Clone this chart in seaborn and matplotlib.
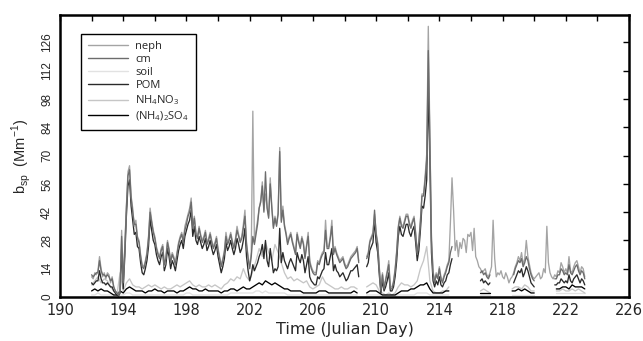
import numpy as np
import pandas as pd
import seaborn as sns
import matplotlib.pyplot as plt
from matplotlib.ticker import FixedLocator

nan = np.nan

# hourly-ish grid, 0.1 day steps from 192.0 to 223.2
day_fine = np.arange(1920, 2233) / 10
# coarser grid for the small components, 0.2 day steps
day_coarse = np.arange(960, 1117) / 5

neph = [
    10, 9, 12, 11, 13, 20, 14, 10, 12, 9,
    12, 11, 7, 10, 5, 3, 2, 1, 4, 33,
    8, 25, 45, 62, 65, 50, 44, 35, 38, 30,
    28, 21, 16, 15, 18, 22, 30, 44, 38, 33,
    30, 25, 22, 20, 24, 26, 15, 20, 28, 24,
    18, 22, 20, 17, 22, 27, 30, 32, 28, 35,
    38, 41, 44, 49, 35, 40, 32, 30, 35, 31,
    28, 30, 33, 27, 29, 32, 28, 25, 27, 30,
    24, 20, 16, 19, 23, 32, 27, 29, 32, 28,
    25, 29, 35, 31, 28, 30, 36, 43, 27, 20,
    15, 22, 92, 27, 33, 38, 44, 48, 57, 43,
    51, 45, 40, 59, 45, 35, 40, 36, 42, 74,
    38, 45, 36, 32, 27, 30, 32, 28, 25, 22,
    32, 28, 25, 30, 27, 20, 26, 32, 18, 15,
    13, 12, 12, 18, 17, 20, 22, 23, 38, 25,
    25, 30, 38, 22, 25, 22, 20, 18, 19, 20,
    17, 15, 16, 18, 20, 21, 22, 23, 25, 18,
    nan, nan, nan, nan, 20, 22, 28, 30, 32, 41,
    32, 27, 15, 4, 12, 5, 9, 13, 18, 5,
    5, 8, 14, 23, 35, 40, 36, 35, 38, 41,
    41, 37, 35, 38, 40, 32, 22, 28, 38, 51,
    51, 60, 71, 134, 80, 30, 13, 8, 12, 10,
    15, 10, 8, 11, 13, 16, 18, 37, 59, 43,
    23, 28, 20, 27, 24, 29, 28, 22, 31, 30,
    32, 23, 34, 20, 18, 15, 14, 12, 13, 14,
    11, 10, 12, 15, 38, 19, 10, 12, 11, 13,
    10, 9, 12, 10, 7, 9, 10, 12, 15, 17,
    20, 18, 22, 16, 19, 28, 20, 16, 12, 10,
    9, 10, 11, 12, 9, 10, 14, 12, 35, 17,
    12, 10, 9, 11, 10, 13, 12, 17, 15, 12,
    14, 12, 20, 13, 12, 15, 17, 18, 15, 12,
    15, 14, 10,
]

cm = [
    11, 10, 11, 12, 12, 18, 13, 11, 11, 10,
    11, 10, 8, 9, 5, 3, 2, 1, 3, 30,
    7, 24, 44, 60, 63, 49, 42, 36, 36, 29,
    27, 20, 15, 14, 17, 21, 29, 42, 37, 32,
    29, 24, 21, 19, 23, 25, 16, 19, 27, 23,
    17, 21, 19, 16, 21, 26, 29, 31, 27, 33,
    36, 40, 42, 47, 34, 39, 31, 29, 34, 30,
    27, 29, 32, 26, 28, 31, 27, 24, 26, 29,
    23, 19, 15, 18, 22, 30, 26, 28, 31, 27,
    24, 28, 33, 30, 27, 29, 34, 40, 26, 19,
    14, 20, 30, 26, 31, 36, 44, 47, 55, 42,
    62, 44, 39, 56, 44, 34, 39, 35, 41, 72,
    37, 43, 35, 31, 26, 29, 31, 27, 24, 21,
    31, 27, 24, 29, 26, 19, 25, 30, 17, 14,
    12, 11, 11, 17, 16, 19, 21, 22, 33, 24,
    24, 29, 35, 21, 24, 21, 19, 17, 18, 19,
    16, 14, 15, 17, 19, 20, 21, 22, 24, 17,
    nan, nan, nan, nan, 19, 21, 27, 29, 31, 43,
    31, 26, 14, 3, 11, 4, 8, 12, 16, 4,
    4, 7, 13, 22, 34, 39, 35, 34, 37, 40,
    40, 36, 34, 37, 39, 31, 21, 27, 37, 50,
    50, 58, 68, 122, 78, 28, 12, 7, 11, 9,
    14, 9, 7, 10, 12, 15, 17, 22, 25, nan,
    nan, nan, nan, nan, nan, nan, nan, nan, nan, nan,
    nan, nan, nan, nan, nan, nan, 12, 13, 11, 12,
    10, 9, 11, nan, nan, nan, nan, nan, nan, nan,
    nan, nan, nan, nan, nan, nan, nan, 11, 14, 16,
    18, 17, 19, 15, 17, 20, 18, 14, 11, 9,
    8, nan, nan, nan, nan, nan, nan, nan, nan, nan,
    nan, nan, nan, 9, 9, 11, 11, 14, 13, 11,
    12, 11, 16, 12, 11, 13, 15, 16, 13, 11,
    13, 12, 9,
]

pom = [
    7, 6, 7, 8, 8, 13, 9, 7, 7, 6,
    7, 6, 5, 5, 3, 2, 1, 0.5, 2, 24,
    4, 20, 40, 55, 58, 45, 38, 31, 32, 25,
    24, 17, 12, 11, 14, 18, 25, 39, 33, 28,
    26, 21, 18, 16, 20, 22, 13, 16, 24, 20,
    14, 18, 16, 13, 18, 23, 26, 28, 24, 30,
    33, 36, 38, 43, 30, 35, 28, 26, 30, 27,
    24, 26, 29, 23, 25, 28, 24, 21, 23, 26,
    20, 16, 12, 15, 19, 27, 23, 25, 28, 24,
    21, 24, 29, 26, 22, 24, 28, 34, 20, 13,
    8, 11, 16, 13, 15, 17, 20, 22, 26, 19,
    28, 18, 15, 24, 18, 12, 14, 13, 15, 34,
    17, 22, 18, 16, 14, 17, 19, 17, 15, 13,
    22, 19, 17, 21, 18, 12, 16, 20, 10, 8,
    7, 6, 6, 10, 9, 11, 13, 14, 22, 16,
    16, 20, 24, 13, 16, 13, 12, 10, 11, 12,
    10, 8, 9, 11, 13, 13, 14, 15, 16, 10,
    nan, nan, nan, nan, 15, 17, 23, 25, 27, 38,
    27, 22, 11, 2, 8, 3, 5, 8, 12, 3,
    3, 5, 10, 18, 30, 35, 31, 30, 33, 36,
    36, 32, 30, 33, 35, 27, 18, 23, 33, 45,
    44, 50, 58, 105, 66, 22, 8, 5, 8, 6,
    10, 6, 5, 7, 8, 11, 12, 16, 19, nan,
    nan, nan, nan, nan, nan, nan, nan, nan, nan, nan,
    nan, nan, nan, nan, nan, nan, 8, 9, 7, 8,
    7, 6, 7, nan, nan, nan, nan, nan, nan, nan,
    nan, nan, nan, nan, nan, nan, nan, 7, 9, 11,
    13, 12, 14, 10, 12, 15, 13, 10, 7, 6,
    5, nan, nan, nan, nan, nan, nan, nan, nan, nan,
    nan, nan, nan, 6, 6, 7, 7, 9, 8, 7,
    8, 7, 11, 8, 7, 9, 10, 11, 9, 7,
    9, 8, 6,
]

nh4no3 = [
    6, 8, 10, 7, 9,
    8, 5, 3, 1, 12,
    3, 7, 9, 6, 5,
    5, 4, 5, 6, 5,
    6, 5, 4, 5, 4,
    4, 5, 6, 5, 6,
    7, 8, 6, 5, 6,
    5, 5, 6, 5, 6,
    5, 4, 6, 7, 9,
    8, 10, 9, 14, 10,
    8, 13, 18, 24, 20,
    27, 22, 18, 26, 22,
    17, 12, 9, 10, 8,
    9, 8, 7, 8, 5,
    4, 5, 6, 10, 7,
    6, 5, 4, 4, 5,
    4, 4, 5, 5, 4,
    nan, nan, 5, 6, 7,
    6, 3, 2, 1, 2,
    1, 2, 5, 7, 6,
    6, 5, 6, 8, 14,
    18, 25, 8, 3, 2,
    2, 3, 3, 5, nan,
    nan, nan, nan, nan, nan,
    nan, nan, nan, 3, 4,
    3, 2, nan, nan, nan,
    nan, nan, nan, 4, 5,
    5, 4, 6, 5, 3,
    3, nan, nan, nan, nan,
    nan, nan, 3, 3, 4,
    3, 3, 4, 3, 4,
    3, 2,
]

nh4so4 = [
    3, 4, 3, 4, 3,
    3, 2, 1, 1, 3,
    2, 4, 5, 4, 3,
    3, 3, 2, 3, 3,
    4, 3, 3, 2, 3,
    3, 3, 2, 3, 3,
    4, 5, 4, 4, 3,
    3, 4, 3, 3, 3,
    3, 2, 3, 3, 4,
    4, 3, 4, 5, 4,
    4, 5, 6, 7, 6,
    8, 7, 6, 7, 6,
    5, 4, 4, 3, 3,
    3, 3, 2, 2, 2,
    2, 2, 3, 3, 3,
    2, 2, 2, 2, 2,
    2, 2, 2, 3, 2,
    nan, nan, 2, 3, 3,
    3, 2, 1, 1, 1,
    1, 1, 2, 3, 3,
    3, 4, 4, 5, 6,
    6, 7, 4, 2, 2,
    2, 2, 3, 3, nan,
    nan, nan, nan, nan, nan,
    nan, nan, nan, 2, 2,
    2, 2, nan, nan, nan,
    nan, nan, nan, 3, 3,
    4, 3, 4, 3, 2,
    2, nan, nan, nan, nan,
    nan, nan, 4, 4, 5,
    5, 4, 6, 5, 5,
    5, 4,
]

soil = [
    1, 1, 2, 1, 1,
    1, 1, 0.5, 0.5, 1,
    1, 2, 2, 1, 1,
    1, 1, 1, 1, 1,
    1, 1, 1, 1, 1,
    1, 1, 1, 1, 1,
    2, 2, 1, 1, 1,
    1, 1, 1, 1, 1,
    1, 1, 1, 1, 2,
    2, 2, 2, 2, 2,
    2, 2, 3, 3, 2,
    3, 2, 2, 2, 2,
    2, 2, 1, 1, 1,
    1, 1, 1, 1, 1,
    1, 1, 1, 1, 1,
    1, 1, 1, 1, 1,
    1, 1, 1, 1, 1,
    nan, nan, 1, 1, 1,
    1, 1, 0.5, 0.5, 0.5,
    0.5, 0.5, 1, 1, 1,
    1, 1, 1, 2, 2,
    2, 2, 1, 1, 1,
    1, 1, 1, 1, nan,
    nan, nan, nan, nan, nan,
    nan, nan, nan, 1, 1,
    1, 1, nan, nan, nan,
    nan, nan, nan, 1, 1,
    1, 1, 1, 1, 1,
    1, nan, nan, nan, nan,
    nan, nan, 2, 2, 2,
    2, 2, 2, 2, 2,
    2, 2,
]

labels = ["neph", "cm", "soil", "POM",
          "NH$_\\mathregular{4}$NO$_\\mathregular{3}$",
          "(NH$_\\mathregular{4}$)$_\\mathregular{2}$SO$_\\mathregular{4}$"]
colors = ["#a4a4a4", "#6c6c6c", "#e2e2e2", "#2a2a2a", "#c6c6c6", "#000000"]
# drawing order (bottom to top), legend keeps the order above
draw_order = [labels[2], labels[4], labels[5], labels[3], labels[0], labels[1]]


def to_long(name, days, vals):
    v = np.asarray(vals, dtype=float)
    assert len(v) == len(days), name
    ok = ~np.isnan(v)
    # new segment wherever data resumes after a gap
    seg = np.cumsum(ok & ~np.r_[False, ok[:-1]])
    return pd.DataFrame({"day": days[ok], "bsp": v[ok],
                         "series": name, "seg": seg[ok]})


df = pd.concat([
    to_long(labels[0], day_fine, neph),
    to_long(labels[1], day_fine, cm),
    to_long(labels[2], day_coarse, soil),
    to_long(labels[3], day_fine, pom),
    to_long(labels[4], day_coarse, nh4no3),
    to_long(labels[5], day_coarse, nh4so4),
], ignore_index=True)

sns.set_style("white")
plt.rcParams["font.family"] = ["DejaVu Sans"]

fig = plt.figure(figsize=(6.43, 3.41), dpi=100)
ax = fig.add_axes([0.0933, 0.129, 0.885, 0.827])

sns.lineplot(data=df, x="day", y="bsp", hue="series", hue_order=draw_order,
             palette=dict(zip(labels, colors)), units="seg", estimator=None,
             linewidth=0.95, ax=ax, legend=False)

ax.set_xlim(190, 226)
ax.set_ylim(0, 139.6)
ax.xaxis.set_major_locator(FixedLocator(np.arange(190, 227, 4)))
ax.xaxis.set_minor_locator(FixedLocator(np.arange(192, 226, 4)))
ax.yaxis.set_major_locator(FixedLocator(np.arange(0, 127, 14)))
ax.tick_params(which="both", direction="in", top=True, right=True,
               length=4, width=1, color="black")
ax.tick_params(axis="x", labelsize=10.5, pad=4)
ax.tick_params(axis="y", labelsize=8.5, pad=5)
for t in ax.get_yticklabels():
    t.set_rotation(90)
    t.set_family("Liberation Sans")
    t.set_va("center")
for sp in ax.spines.values():
    sp.set_linewidth(1.8)
    sp.set_color("black")

ax.set_xlabel("Time (Julian Day)", fontsize=11.5, labelpad=3)
ax.set_ylabel("b$_\\mathregular{sp}$  (Mm$^\\mathregular{-1}$)",
              fontsize=10.5, family="Liberation Sans", labelpad=6)

handles = [plt.Line2D([], [], color=c, lw=1.0) for c in colors]
leg = ax.legend(handles, labels, loc="upper left",
                bbox_to_anchor=(0.037, 0.933), borderaxespad=0,
                fancybox=False, framealpha=1, edgecolor="black",
                prop={"family": "Open Sans", "size": 8},
                handlelength=3.6, handletextpad=0.7, labelspacing=0.2,
                borderpad=0.6)
leg.get_frame().set_linewidth(1.0)

fig.savefig("out.png", dpi=100)
